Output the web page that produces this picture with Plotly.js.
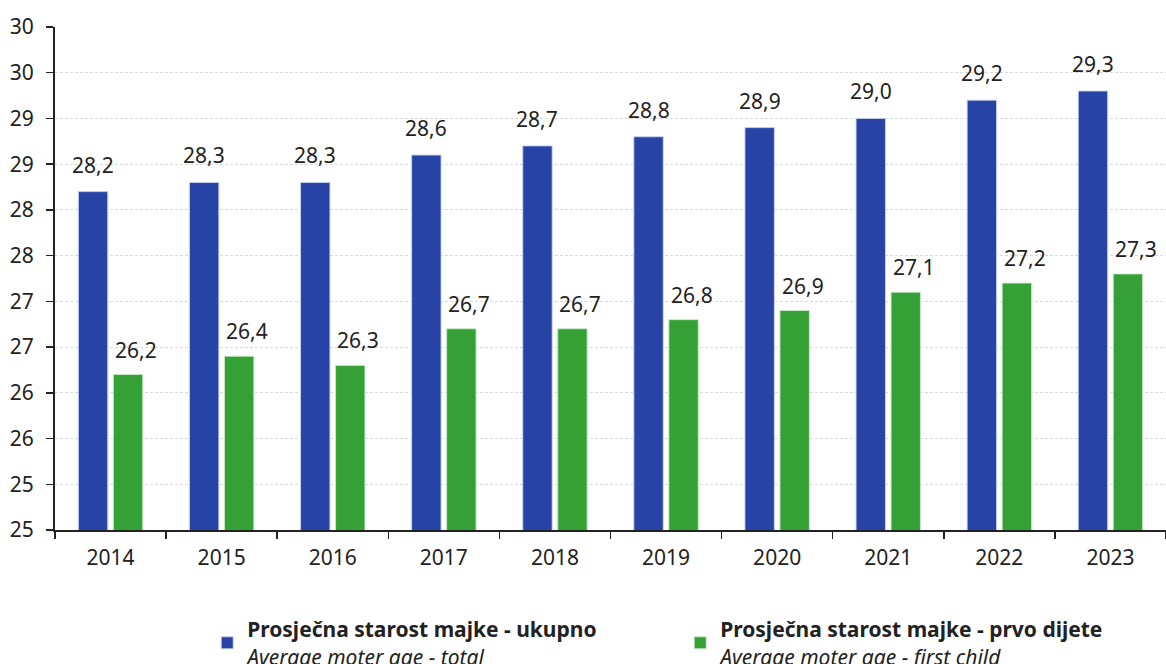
<!DOCTYPE html>
<html>
<head>
<meta charset="utf-8">
<script src="https://cdn.plot.ly/plotly-3.0.1.min.js"></script>
<style>
html,body{margin:0;padding:0;background:#fff;}
#chart{width:1166px;height:664px;}
</style>
</head>
<body>
<div id="chart"></div>
<script>
const years = ['2014','2015','2016','2017','2018','2019','2020','2021','2022','2023'];
const totalAge = [28.2, 28.3, 28.3, 28.6, 28.7, 28.8, 28.9, 29.0, 29.2, 29.3];
const firstChildAge = [26.2, 26.4, 26.3, 26.7, 26.7, 26.8, 26.9, 27.1, 27.2, 27.3];
const yTickVals = [24.5, 25, 25.5, 26, 26.5, 27, 27.5, 28, 28.5, 29, 29.5, 30];
const yTickText = ['25','25','26','26','27','27','28','28','29','29','30','30'];
const seriesNames = [
  '<b>Prosječna starost majke - ukupno</b><br><i>Average moter age - total</i>',
  '<b>Prosječna starost majke - prvo dijete</b><br><i>Average moter age - first child</i>'
];

const BLUE = '#2743a6';
const GREEN = '#34a035';
const FONT = 'Noto Sans, sans-serif';
const TXT = '#222222';
const BARGAP = 0.37;
const off = (1 - BARGAP) / 4;

function fmt(v){ return v.toFixed(1).replace('.', ','); }

const traces = [
  {type:'bar', x: years, y: totalAge, name: seriesNames[0],
   marker:{color: BLUE, line:{color:'rgba(200,210,240,0.9)', width:1}}, hoverinfo:'skip'},
  {type:'bar', x: years, y: firstChildAge, name: seriesNames[1],
   marker:{color: GREEN, line:{color:'rgba(200,235,200,0.9)', width:1}}, hoverinfo:'skip'}
];

const annotations = [];
years.forEach((yr, i) => {
  annotations.push({x: i - off, y: totalAge[i], xref:'x', yref:'y', text: fmt(totalAge[i]),
    showarrow:false, yanchor:'middle', yshift: 27, xshift: 0,
    font:{family: FONT, size: 21, color: TXT}});
  annotations.push({x: i + off, y: firstChildAge[i], xref:'x', yref:'y', text: fmt(firstChildAge[i]),
    showarrow:false, yanchor:'middle', yshift: 25, xshift: 8,
    font:{family: FONT, size: 21, color: TXT}});
});

const layout = {
  width: 1166, height: 664,
  margin: {l: 55, r: 0, t: 27, b: 134, autoexpand: false},
  paper_bgcolor: '#fff', plot_bgcolor: '#fff',
  barmode: 'group', bargap: BARGAP, bargroupgap: 0.16,
  font: {family: FONT, size: 21, color: TXT},
  showlegend: true,
  legend: {orientation: 'h', xref: 'container', yref: 'container',
    x: 0.1777, xanchor: 'left', y: 1 - 609/664, yanchor: 'top',
    font: {family: FONT, size: 21, color: TXT}, entrywidth: 428, traceorder: 'normal',
    bgcolor: 'rgba(0,0,0,0)'},
  xaxis: {type: 'category', showline: true, linecolor: '#222', linewidth: 2,
    ticks: 'outside', tickson: 'boundaries', ticklen: 7, tickwidth: 1.5, tickcolor: '#222',
    showgrid: false, zeroline: false, fixedrange: true, ticklabelstandoff: 8,
    tickfont: {family: FONT, size: 21, color: TXT}},
  yaxis: {range: [24.5, 30], tickvals: yTickVals, ticktext: yTickText,
    showline: true, linecolor: '#222', linewidth: 2,
    ticks: 'outside', ticklen: 7, tickwidth: 1.5, tickcolor: '#222',
    showgrid: true, gridcolor: '#d9d9d9', gridwidth: 1, griddash: '3px,2px',
    zeroline: false, fixedrange: true, ticklabelstandoff: 8,
    tickfont: {family: FONT, size: 21, color: TXT}},
  annotations: annotations
};

Plotly.newPlot('chart', traces, layout, {displayModeBar: false, staticPlot: true});
</script>
</body>
</html>
